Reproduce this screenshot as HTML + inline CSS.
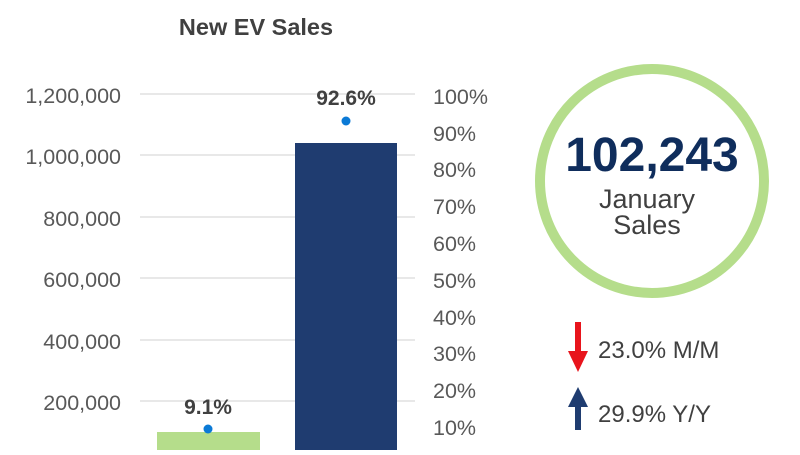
<!DOCTYPE html>
<html><head><style>body{margin:0;background:#fff}</style></head><body>
<svg width="800" height="450" xmlns="http://www.w3.org/2000/svg" font-family="Liberation Sans, Arial, sans-serif">
<text x="256" y="35" font-size="23.5" font-weight="bold" fill="#404040" text-anchor="middle">New EV Sales</text>
<g stroke="#d9d9d9" stroke-width="1.2">
<line x1="140" x2="415" y1="94" y2="94"/><line x1="140" x2="415" y1="155" y2="155"/>
<line x1="140" x2="415" y1="217" y2="217"/><line x1="140" x2="415" y1="278" y2="278"/>
<line x1="140" x2="415" y1="340" y2="340"/><line x1="140" x2="415" y1="401" y2="401"/>
</g>
<g font-size="21.5" fill="#595959" text-anchor="end">
<text x="121" y="103">1,200,000</text><text x="121" y="164">1,000,000</text>
<text x="121" y="226">800,000</text><text x="121" y="287">600,000</text>
<text x="121" y="349">400,000</text><text x="121" y="410">200,000</text>
</g>
<g font-size="21.5" fill="#595959">
<text x="433" y="104">100%</text><text x="433" y="141">90%</text><text x="433" y="177">80%</text>
<text x="433" y="214">70%</text><text x="433" y="251">60%</text><text x="433" y="288">50%</text>
<text x="433" y="325">40%</text><text x="433" y="361">30%</text><text x="433" y="398">20%</text>
<text x="433" y="435">10%</text>
</g>
<rect x="157" y="432" width="103" height="18" fill="#b5dd8b"/>
<rect x="295" y="143" width="102" height="307" fill="#1f3c70"/>
<circle cx="208" cy="429" r="4.5" fill="#0b7ad6"/>
<circle cx="346" cy="121" r="4.5" fill="#0b7ad6"/>
<text x="208" y="414" font-size="21" font-weight="bold" fill="#404040" text-anchor="middle">9.1%</text>
<text x="346" y="105" font-size="21" font-weight="bold" fill="#404040" text-anchor="middle">92.6%</text>
<circle cx="652" cy="181" r="112" fill="none" stroke="#b5dd8b" stroke-width="10"/>
<text x="652" y="171" font-size="48" font-weight="bold" fill="#0f2d5c" text-anchor="middle">102,243</text>
<text x="647" y="208" font-size="27" fill="#404040" text-anchor="middle">January</text>
<text x="647" y="234" font-size="27" fill="#404040" text-anchor="middle">Sales</text>
<rect x="575" y="322" width="6" height="30" fill="#e8141c"/>
<polygon points="568,351 588,351 578,372" fill="#e8141c"/>
<rect x="575" y="405" width="6" height="25" fill="#1f3c70"/>
<polygon points="568,407 588,407 578,387" fill="#1f3c70"/>
<text x="598" y="358" font-size="24" fill="#404040">23.0% M/M</text>
<text x="598" y="422" font-size="24" fill="#404040">29.9% Y/Y</text>
</svg>
</body></html>
